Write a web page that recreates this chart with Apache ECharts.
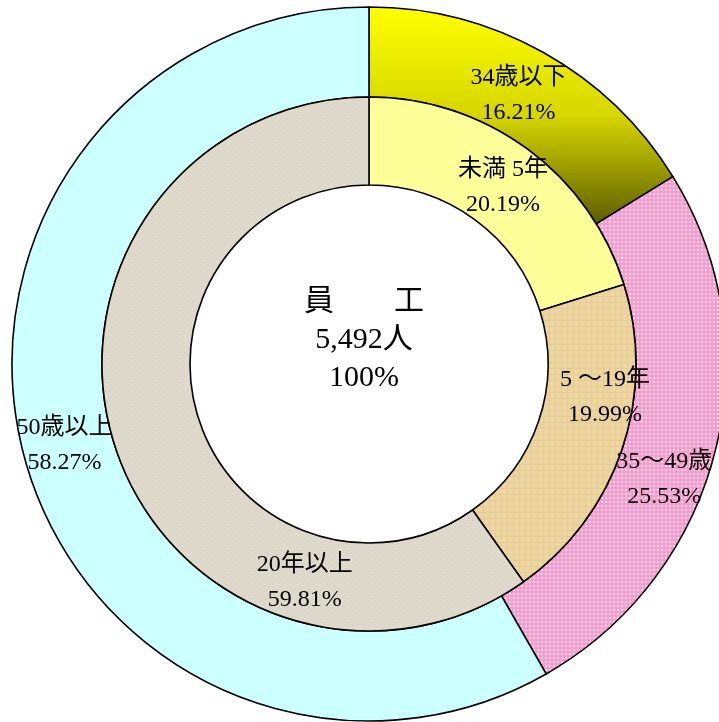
<!DOCTYPE html>
<html>
<head>
<meta charset="utf-8">
<script src="https://cdn.jsdelivr.net/npm/echarts@6/dist/echarts.min.js"></script>
<style>
html,body{margin:0;padding:0;background:#fff;}
#chart{width:719px;height:722px;}
</style>
</head>
<body>
<div id="chart"></div>
<script>
// ---- data ----
const outerCategories = ['34歳以下', '35～49歳', '50歳以上'];
const outerValues = [16.21, 25.53, 58.27];
const innerCategories = ['未満 5年', '5 ～19年', '20年以上'];
const innerValues = [20.19, 19.99, 59.81];
const centerTitle = '員\u3000\u3000工';
const centerCount = '5,492人';
const centerPercent = '100%';

// ---- styles ----
const FONT = "'Liberation Serif', 'Noto Sans CJK JP', serif";

function makePattern(w, h, draw) {
  const c = document.createElement('canvas');
  c.width = w; c.height = h;
  const ctx = c.getContext('2d');
  draw(ctx);
  return { image: c, repeat: 'repeat' };
}
const pinkDots = makePattern(4, 4, ctx => {
  ctx.fillStyle = '#FF99CC'; ctx.fillRect(0, 0, 4, 4);
  ctx.fillStyle = '#FFE2F1'; ctx.fillRect(1, 1, 2, 2);
});
const tanTexture = makePattern(6, 6, ctx => {
  ctx.fillStyle = '#EED6A2'; ctx.fillRect(0, 0, 6, 6);
  ctx.fillStyle = '#E6CB92'; ctx.fillRect(0, 2, 6, 1); ctx.fillRect(3, 0, 1, 6);
});
const beigeTexture = makePattern(6, 6, ctx => {
  ctx.fillStyle = '#DFD9CB'; ctx.fillRect(0, 0, 6, 6);
  ctx.fillStyle = '#D8D1C2'; ctx.fillRect(2, 1, 1, 1); ctx.fillRect(4, 4, 1, 1);
});
const yellowGrad = {
  type: 'linear', x: 0, y: 0, x2: 0, y2: 1,
  colorStops: [{ offset: 0, color: '#FFFF00' }, { offset: 0.5, color: '#D6D600' }, { offset: 1, color: '#5C5C00' }]
};
const outerColors = [yellowGrad, pinkDots, '#CCFFFF'];
const innerColors = ['#FFFF99', tanTexture, beigeTexture];
const outerOffsets = [[-4, 6], [-10, 37], [0, 0]];
const innerOffsets = [[0, 5], [22, -39], [151, 150]];

const CENTER = [369, 364];

function buildData(cats, vals, colors) {
  return cats.map((name, i) => ({ name, value: vals[i], itemStyle: { color: colors[i] } }));
}
const labelStyle = {
  show: true,
  position: 'inside',
  formatter: p => p.name + '\n' + p.value.toFixed(2) + '%',
  fontFamily: FONT,
  fontSize: 24,
  lineHeight: 35,
  color: '#000',
  align: 'center'
};

const chart = echarts.init(document.getElementById('chart'));
chart.setOption({
  animation: false,
  series: [
    {
      type: 'pie',
      center: CENTER,
      radius: [267, 357],
      startAngle: 90,
      clockwise: true,
      avoidLabelOverlap: false,
      silent: true,
      itemStyle: { borderColor: '#000', borderWidth: 1.6 },
      label: labelStyle,
      labelLine: { show: false },
      labelLayout: p => ({ dx: outerOffsets[p.dataIndex][0], dy: outerOffsets[p.dataIndex][1] }),
      data: buildData(outerCategories, outerValues, outerColors)
    },
    {
      type: 'pie',
      center: CENTER,
      radius: [179, 267],
      startAngle: 90,
      clockwise: true,
      avoidLabelOverlap: false,
      silent: true,
      itemStyle: { borderColor: '#000', borderWidth: 1.6 },
      label: labelStyle,
      labelLine: { show: false },
      labelLayout: p => ({ dx: innerOffsets[p.dataIndex][0], dy: innerOffsets[p.dataIndex][1] }),
      data: buildData(innerCategories, innerValues, innerColors)
    }
  ],
  graphic: [{
    type: 'text',
    x: 364,
    y: 340,
    style: {
      text: [centerTitle, centerCount, centerPercent].join('\n'),
      fontFamily: FONT,
      fontSize: 30,
      lineHeight: 38,
      fill: '#000',
      align: 'center',
      verticalAlign: 'middle'
    }
  }]
});
</script>
</body>
</html>
